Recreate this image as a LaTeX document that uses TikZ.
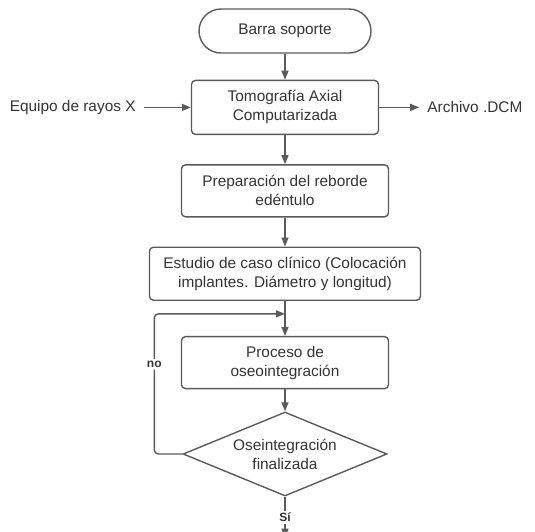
\documentclass[tikz,border=0pt]{standalone}
\usepackage{fontspec}
\setmainfont{Liberation Sans}
\usepackage{tikz}
\usetikzlibrary{positioning,arrows.meta,shapes.geometric,calc}
\definecolor{linegray}{RGB}{90,90,90}
\definecolor{textgray}{RGB}{51,51,51}
\tikzset{
    >={Triangle[length=9pt,width=7pt]},
    terminal/.style={rectangle, draw=linegray, line width=1.4pt, rounded corners=22pt, align=center, minimum width=172pt, minimum height=44pt},
    flow/.style={rectangle, draw=linegray, line width=1.4pt, rounded corners=4pt, align=center, minimum height=52pt},
    decision/.style={diamond, draw=linegray, line width=1.4pt, aspect=2.43, inner sep=0pt, align=center, minimum width=204pt, minimum height=84pt},
    io/.style={inner sep=8pt, align=center},
    lbl/.style={fill=white, inner sep=2pt, font=\fontsize{12}{14}\selectfont\bfseries},
    link/.style={->, draw=linegray, line width=1.4pt}
}

\begin{document}
\begin{tikzpicture}[x=1pt, y=-1pt, text=textgray, font=\fontsize{15.4}{19}\selectfont]
    \useasboundingbox (0,0) rectangle (535,531);
    \node[terminal] (barra) at (285,31) {Barra soporte};
    \node[flow, minimum width=187pt, minimum height=54pt, below=26pt of barra] (tomo) {
        Tomografía Axial\\Computarizada
    };
    \node[io, left=47pt of tomo] (equipo) {Equipo de rayos X};
    \node[io, right=40pt of tomo] (archivo) {Archivo .DCM};
    \node[flow, minimum width=207pt, below=29pt of tomo] (prep) {
        Preparación del reborde\\edéntulo
    };
    \node[flow, minimum width=271pt, minimum height=53pt, below=29pt of prep] (estudio) {
        Estudio de caso clínico (Colocación\\implantes. Diámetro y longitud)
    };
    \node[flow, minimum width=207pt, below=35pt of estudio] (proceso) {
        Proceso de\\oseointegración
    };
    \node[decision, below=22pt of proceso] (fin) {Oseintegración\\finalizada};
    \coordinate (retorno) at ($(estudio.south)!0.37!(proceso.north)$);
    \coordinate (salida) at ($(fin.south)+(0,41)$);

    \draw[link] (barra) -- (tomo);
    \draw[link] (equipo) -- (tomo);
    \draw[link] (tomo) -- (archivo);
    \draw[link] (tomo) -- (prep);
    \draw[link] (prep) -- (estudio);
    \draw[link] (estudio) -- (proceso);
    \draw[link] (proceso) -- (fin);
    \draw[link, rounded corners=4pt] (fin.west) -- ++(-28,0) |- node[lbl, pos=0.32] {no} (retorno);
    \draw[link] (fin.south) -- node[lbl] {Sí} (salida);
\end{tikzpicture}
\end{document}
